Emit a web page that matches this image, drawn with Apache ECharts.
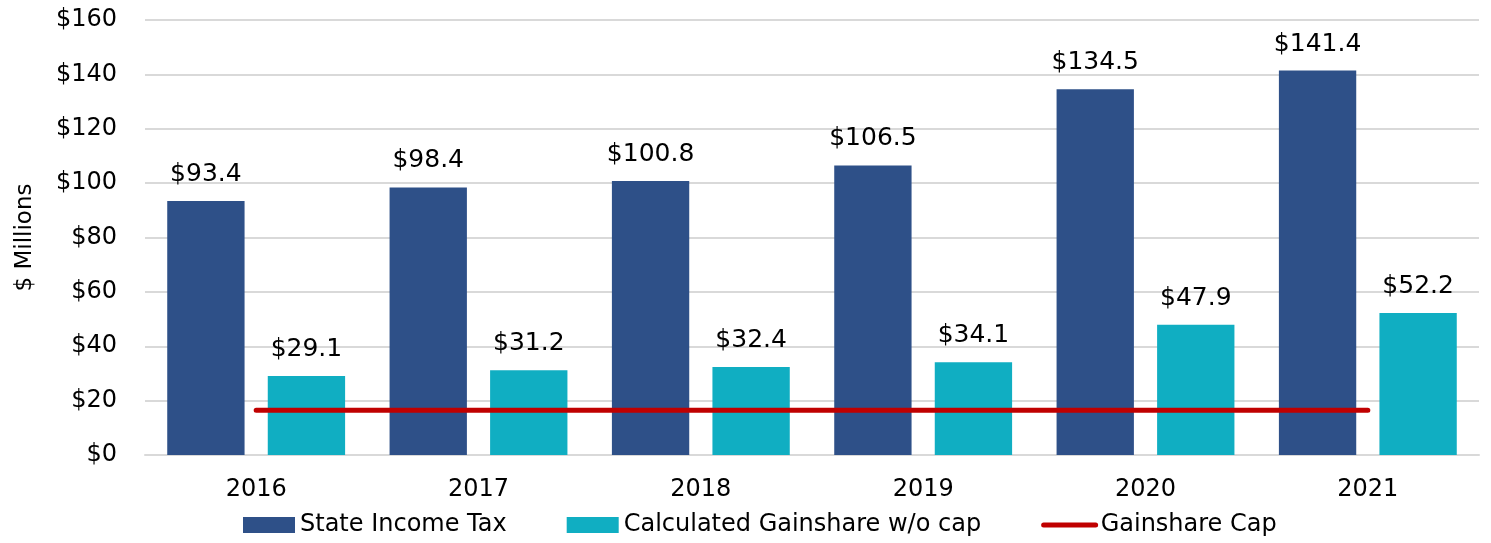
<!DOCTYPE html>
<html>
<head>
<meta charset="utf-8">
<script src="https://cdn.jsdelivr.net/npm/echarts@6/dist/echarts.min.js"></script>
<style>
  html, body { margin: 0; padding: 0; background: #fff; }
  #chart { width: 1491px; height: 543px; }
</style>
</head>
<body>
<div id="chart"></div>
<script>
var years = ['2016', '2017', '2018', '2019', '2020', '2021'];
var stateIncomeTax = [93.4, 98.4, 100.8, 106.5, 134.5, 141.4];
var gainshareNoCap = [29.1, 31.2, 32.4, 34.1, 47.9, 52.2];
var gainshareCap = [16.5, 16.5, 16.5, 16.5, 16.5, 16.5];

var font = 'DejaVu Sans';
var chart = echarts.init(document.getElementById('chart'));

var barLabel = {
  show: true,
  position: 'top',
  distance: 14,
  fontFamily: font,
  fontSize: 25,
  color: '#000',
  formatter: function (p) { return '$' + p.value.toFixed(1); }
};

chart.setOption({
  animation: false,
  backgroundColor: '#fff',
  grid: { left: 145, right: 12, top: 20, bottom: 88 },
  legend: {
    bottom: 1,
    left: 238,
    itemWidth: 52,
    itemHeight: 16,
    itemGap: 60,
    textStyle: { fontFamily: font, fontSize: 24, color: '#000' },
    data: [
      { name: 'State Income Tax', icon: 'rect' },
      { name: 'Calculated Gainshare w/o cap', icon: 'rect' },
      { name: 'Gainshare Cap', itemStyle: { opacity: 0 }, lineStyle: { width: 5, color: '#C00000', cap: 'round' } }
    ]
  },
  xAxis: {
    type: 'category',
    data: years,
    axisLine: { lineStyle: { color: '#d9d9d9', width: 2 } },
    axisTick: { show: false },
    axisLabel: { fontFamily: font, fontSize: 24, color: '#000', margin: 23 }
  },
  yAxis: {
    type: 'value',
    min: 0,
    max: 160,
    interval: 20,
    name: '$ Millions',
    nameLocation: 'middle',
    nameGap: 108,
    nameTextStyle: { fontFamily: font, fontSize: 23, color: '#000' },
    axisLine: { show: false },
    axisTick: { show: false },
    splitLine: { lineStyle: { color: '#d9d9d9', width: 2 } },
    axisLabel: {
      fontFamily: font, fontSize: 24, color: '#000', margin: 28,
      formatter: function (v) { return '$' + v; }
    }
  },
  series: [
    {
      name: 'State Income Tax',
      type: 'bar',
      data: stateIncomeTax,
      barGap: '30%',
      barCategoryGap: '20%',
      itemStyle: { color: '#2E5088' },
      label: barLabel
    },
    {
      name: 'Calculated Gainshare w/o cap',
      type: 'bar',
      data: gainshareNoCap,
      itemStyle: { color: '#10AEC2' },
      label: barLabel
    },
    {
      name: 'Gainshare Cap',
      type: 'line',
      data: gainshareCap,
      symbol: 'none',
      z: 5,
      lineStyle: { color: '#C00000', width: 5, cap: 'round' },
      itemStyle: { color: '#C00000' }
    }
  ]
});
</script>
</body>
</html>
